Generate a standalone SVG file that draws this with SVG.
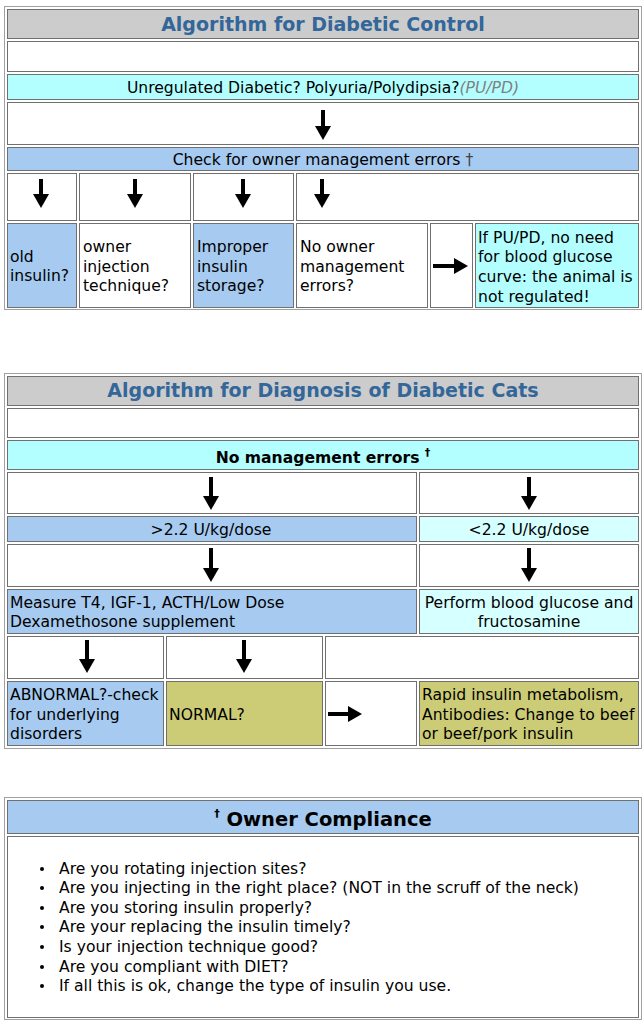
<svg xmlns="http://www.w3.org/2000/svg" width="644" height="1024" viewBox="0 0 644 1024">
<style>
.outer{fill:#fff;stroke:#a0a0a0;stroke-width:1}
.c{stroke:#707070;stroke-width:1}
.w{fill:#fff}.g{fill:#cccccc}.cy{fill:#b3ffff}.lb{fill:#a6caf0}.lc{fill:#d6ffff}.ol{fill:#cccc77}
text{font-family:"DejaVu Sans","Liberation Sans",sans-serif;font-size:15.6px;fill:#000}
.t{font-weight:bold;font-size:19px;fill:#336699}
.m{text-anchor:middle}
.b{font-weight:bold}
.oc{font-weight:bold;font-size:19.5px}
.sup{font-size:11px}
.arr{stroke:#000;stroke-width:4;fill:none;marker-end:url(#ah)}
</style>
<defs>
<marker id="ah" markerUnits="userSpaceOnUse" markerWidth="14" markerHeight="16" viewBox="0 0 14 16" refX="2" refY="8" orient="auto">
<path d="M0,0 L14,8 L0,16 Z" fill="#000"/>
</marker>
</defs>
<rect width="644" height="1024" fill="#fff"/>

<!-- Table 1 -->
<rect class="outer" x="4.5" y="6.5" width="637" height="303"/>
<g id="t1-title"><rect class="c g" x="7.5" y="9.5" width="631" height="29"/><text class="t m" x="323" y="31">Algorithm for Diabetic Control</text></g>
<g id="t1-blank"><rect class="c w" x="7.5" y="41.5" width="631" height="30"/></g>
<g id="t1-unregulated"><rect class="c cy" x="7.5" y="74.5" width="631" height="25"/><text class="m" x="323" y="93">Unregulated Diabetic? Polyuria/Polydipsia?<tspan font-style="italic" fill="#808080">(PU/PD)</tspan></text></g>
<g id="t1-arrowrow1"><rect class="c w" x="7.5" y="102.5" width="631" height="42"/></g>
<g id="t1-check"><rect class="c lb" x="7.5" y="147.5" width="631" height="23"/><text class="m" x="323" y="165">Check for owner management errors <tspan fill="#444">†</tspan></text></g>
<g id="t1-arrowcells">
<rect class="c w" x="7.5" y="173.5" width="69" height="47"/>
<rect class="c w" x="79.5" y="173.5" width="111" height="47"/>
<rect class="c w" x="193.5" y="173.5" width="100" height="47"/>
<rect class="c w" x="296.5" y="173.5" width="342" height="47"/>
</g>
<g id="t1-old-insulin"><rect class="c lb" x="7.5" y="223.5" width="69" height="84"/><text x="10" y="262">old</text><text x="10" y="281">insulin?</text></g>
<g id="t1-injection"><rect class="c w" x="79.5" y="223.5" width="111" height="84"/><text x="83" y="252">owner</text><text x="83" y="272">injection</text><text x="83" y="291">technique?</text></g>
<g id="t1-storage"><rect class="c lb" x="193.5" y="223.5" width="100" height="84"/><text x="197" y="252">Improper</text><text x="197" y="272">insulin</text><text x="197" y="291">storage?</text></g>
<g id="t1-no-errors"><rect class="c w" x="296.5" y="223.5" width="131" height="84"/><text x="300" y="252">No owner</text><text x="300" y="272">management</text><text x="300" y="291">errors?</text></g>
<g id="t1-arrowcell"><rect class="c w" x="430.5" y="223.5" width="42" height="84"/></g>
<g id="t1-not-regulated"><rect class="c cy" x="475.5" y="223.5" width="163" height="84"/><text x="478" y="243">If PU/PD, no need</text><text x="478" y="262">for blood glucose</text><text x="478" y="282">curve: the animal is</text><text x="478" y="302">not regulated!</text></g>

<!-- Table 2 -->
<rect class="outer" x="4.5" y="373.5" width="637" height="375"/>
<g id="t2-title"><rect class="c g" x="7.5" y="376.5" width="631" height="29"/><text class="t m" x="323" y="397">Algorithm for Diagnosis of Diabetic Cats</text></g>
<g id="t2-blank"><rect class="c w" x="7.5" y="408.5" width="631" height="29"/></g>
<g id="t2-no-errors"><rect class="c cy" x="7.5" y="440.5" width="631" height="29"/><text class="m b" x="323" y="463">No management errors <tspan class="sup" dy="-7">†</tspan></text></g>
<g id="t2-arrowrow1"><rect class="c w" x="7.5" y="472.5" width="409" height="41"/><rect class="c w" x="419.5" y="472.5" width="219" height="41"/></g>
<g id="t2-high-dose"><rect class="c lb" x="7.5" y="516.5" width="409" height="25"/><text class="m" x="211" y="535">&gt;2.2 U/kg/dose</text></g>
<g id="t2-low-dose"><rect class="c lc" x="419.5" y="516.5" width="219" height="25"/><text class="m" x="529" y="535">&lt;2.2 U/kg/dose</text></g>
<g id="t2-arrowrow2"><rect class="c w" x="7.5" y="544.5" width="409" height="42"/><rect class="c w" x="419.5" y="544.5" width="219" height="42"/></g>
<g id="t2-measure"><rect class="c lb" x="7.5" y="589.5" width="409" height="44"/><text x="10" y="608">Measure T4, IGF-1, ACTH/Low Dose</text><text x="10" y="627">Dexamethosone supplement</text></g>
<g id="t2-perform"><rect class="c lc" x="419.5" y="589.5" width="219" height="44"/><text class="m" x="529" y="608">Perform blood glucose and</text><text class="m" x="529" y="627">fructosamine</text></g>
<g id="t2-arrowrow3"><rect class="c w" x="7.5" y="636.5" width="156" height="42"/><rect class="c w" x="166.5" y="636.5" width="156" height="42"/><rect class="c w" x="325.5" y="636.5" width="313" height="42"/></g>
<g id="t2-abnormal"><rect class="c lb" x="7.5" y="681.5" width="156" height="64"/><text x="10" y="700">ABNORMAL?-check</text><text x="10" y="720">for underlying</text><text x="10" y="739">disorders</text></g>
<g id="t2-normal"><rect class="c ol" x="166.5" y="681.5" width="156" height="64"/><text x="169" y="720">NORMAL?</text></g>
<g id="t2-arrowcell"><rect class="c w" x="325.5" y="681.5" width="91" height="64"/></g>
<g id="t2-rapid"><rect class="c ol" x="419.5" y="681.5" width="219" height="64"/><text x="422" y="700">Rapid insulin metabolism,</text><text x="422" y="720">Antibodies: Change to beef</text><text x="422" y="739">or beef/pork insulin</text></g>

<!-- Table 3 -->
<rect class="outer" x="4.5" y="797.5" width="637" height="222"/>
<g id="t3-title"><rect class="c lb" x="7.5" y="800.5" width="631" height="33"/><text class="m oc" x="323" y="826"><tspan class="sup" dy="-9">†</tspan><tspan dy="9"> Owner Compliance</tspan></text></g>
<g id="t3-list"><rect class="c w" x="7.5" y="836.5" width="631" height="181"/>
<g fill="#000"><circle cx="42" cy="869" r="2"/><circle cx="42" cy="888" r="2"/><circle cx="42" cy="908" r="2"/><circle cx="42" cy="927" r="2"/><circle cx="42" cy="947" r="2"/><circle cx="42" cy="967" r="2"/><circle cx="42" cy="986" r="2"/></g>
<text x="59" y="874">Are you rotating injection sites?</text>
<text x="59" y="893">Are you injecting in the right place? (NOT in the scruff of the neck)</text>
<text x="59" y="913">Are you storing insulin properly?</text>
<text x="59" y="932">Are your replacing the insulin timely?</text>
<text x="59" y="952">Is your injection technique good?</text>
<text x="59" y="972">Are you compliant with DIET?</text>
<text x="59" y="991">If all this is ok, change the type of insulin you use.</text>
</g>

<g id="connectors">
<path class="arr" d="M323,110 V128"/>
<path class="arr" d="M41,179 V196"/>
<path class="arr" d="M135,179 V196"/>
<path class="arr" d="M243,179 V196"/>
<path class="arr" d="M322,179 V196"/>
<path class="arr" d="M433,266 H456"/>
<path class="arr" d="M211,477 V498"/>
<path class="arr" d="M529,477 V498"/>
<path class="arr" d="M211,548 V570"/>
<path class="arr" d="M529,548 V570"/>
<path class="arr" d="M87,640 V661"/>
<path class="arr" d="M244,640 V661"/>
<path class="arr" d="M328,714 H350"/>
</g>
</svg>
